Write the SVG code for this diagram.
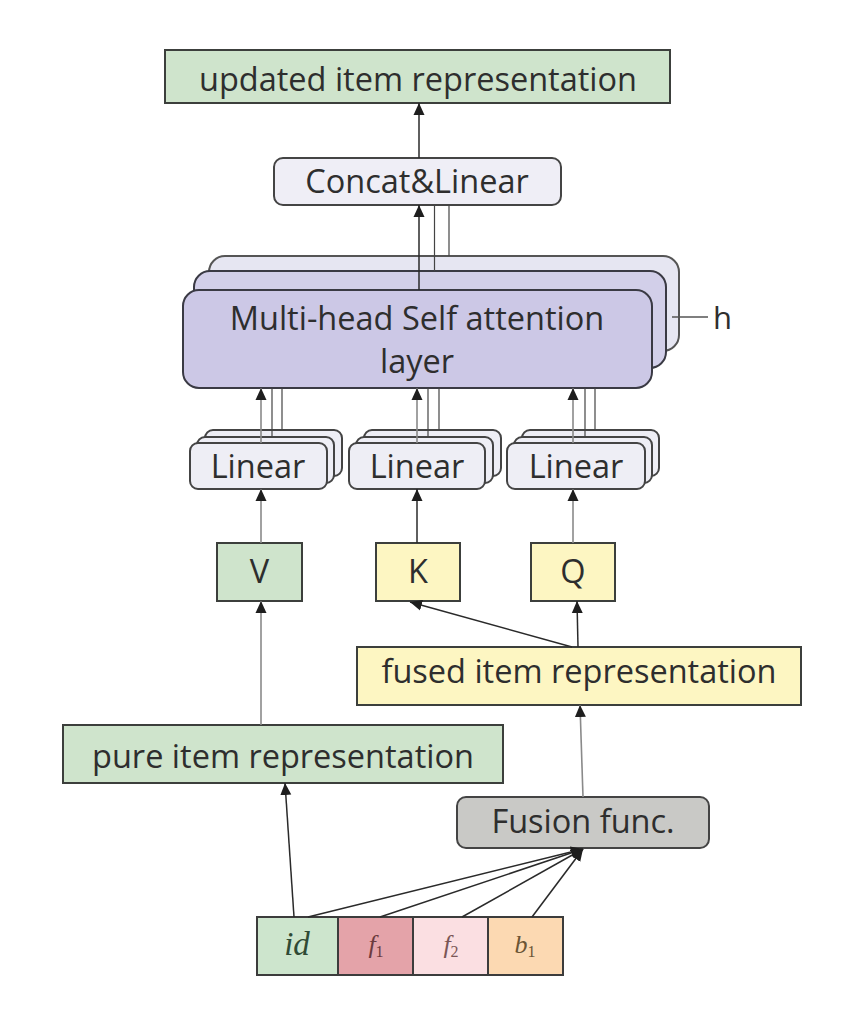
<svg xmlns="http://www.w3.org/2000/svg" width="853" height="1020" viewBox="0 0 853 1020">
<defs>
<marker id="ah" viewBox="0 0 12 12" refX="12" refY="6" markerWidth="12" markerHeight="12" markerUnits="userSpaceOnUse" orient="auto">
<path d="M0,0.5 L12,6 L0,11.5 z" fill="#1e1e1e"/>
</marker>
<style>
.t{font-family:"Open Sans","DejaVu Sans",sans-serif;font-size:32.5px;fill:#2e2e2e;text-anchor:middle}
.box{stroke:#3c3f3c;stroke-width:2}
.g{fill:#cfe4cc}
.y{fill:#fdf6c2}
.lin{fill:#eeeef5;stroke:#444;stroke-width:2}
.c{stroke:#2a2a2a;stroke-width:1.5;fill:none}
.cg{stroke:#8a8a8a;stroke-width:1.6;fill:none}
.p{stroke:#444;stroke-width:1.2;fill:none}
.m{font-family:"Liberation Serif","DejaVu Serif",serif;font-style:italic;text-anchor:middle}
</style>
</defs>
<rect width="853" height="1020" fill="#fff"/>

<g id="updated">
<rect class="box g" x="165" y="50" width="505" height="53"/>
<text class="t" x="418" y="91">updated item representation</text>
</g>

<g id="concat">
<rect x="274" y="158" width="287" height="47" rx="9" fill="#efeef6" stroke="#444" stroke-width="2"/>
<text class="t" x="417" y="193">Concat&amp;Linear</text>
</g>

<g id="mhsa">
<rect x="209" y="256" width="470" height="95" rx="16" fill="#e6e6f2" stroke="#555" stroke-width="2"/>
<rect x="194" y="271" width="472" height="97" rx="16" fill="#d2cfe9" stroke="#3a3a44" stroke-width="2"/>
<rect x="183" y="290" width="469" height="98" rx="16" fill="#ccc8e6" stroke="#3a3a44" stroke-width="2"/>
<text class="t" x="417" y="330">Multi-head Self attention</text>
<text class="t" x="417" y="373">layer</text>
</g>

<g id="h-label">
<line x1="672" y1="317" x2="708" y2="317" stroke="#555" stroke-width="1.5"/>
<text x="713" y="329" style="font-family:'Open Sans','DejaVu Sans',sans-serif;font-size:31px;fill:#2e2e2e">h</text>
</g>

<g id="linear-v">
<rect class="lin" x="205" y="430" width="137" height="46" rx="8"/>
<rect class="lin" x="197" y="437" width="137" height="46" rx="8"/>
<rect class="lin" x="190" y="443" width="137" height="46" rx="8"/>
<text class="t" x="258" y="478">Linear</text>
</g>
<g id="linear-k">
<rect class="lin" x="364" y="430" width="137" height="46" rx="8"/>
<rect class="lin" x="356" y="437" width="137" height="46" rx="8"/>
<rect class="lin" x="349" y="443" width="136" height="46" rx="8"/>
<text class="t" x="417" y="478">Linear</text>
</g>
<g id="linear-q">
<rect class="lin" x="522" y="430" width="137" height="46" rx="8"/>
<rect class="lin" x="514" y="437" width="138" height="46" rx="8"/>
<rect class="lin" x="507" y="443" width="138" height="46" rx="8"/>
<text class="t" x="576" y="478">Linear</text>
</g>

<g id="v">
<rect class="box g" x="217" y="543" width="85" height="58"/>
<text class="t" x="259.5" y="583">V</text>
</g>
<g id="k">
<rect class="box y" x="376" y="543" width="84" height="58"/>
<text class="t" x="418" y="583">K</text>
</g>
<g id="q">
<rect class="box y" x="531" y="543" width="84" height="58"/>
<text class="t" x="573" y="583">Q</text>
</g>

<g id="fused">
<rect class="box y" x="357" y="647" width="444" height="58"/>
<text class="t" x="579" y="683">fused item representation</text>
</g>

<g id="pure">
<rect class="box g" x="63" y="725" width="440" height="58"/>
<text class="t" x="283" y="768">pure item representation</text>
</g>

<g id="fusion">
<rect x="457" y="797" width="252" height="51" rx="9" fill="#c9c9c6" stroke="#444" stroke-width="2"/>
<text class="t" x="583" y="833">Fusion func.</text>
</g>

<g id="features">
<rect x="257" y="917" width="81" height="58" fill="#cde5cd" stroke="#3c3c3c" stroke-width="2"/>
<rect x="338" y="917" width="75" height="58" fill="#e4a3a9" stroke="#3c3c3c" stroke-width="2"/>
<rect x="413" y="917" width="75" height="58" fill="#fbdfe2" stroke="#3c3c3c" stroke-width="2"/>
<rect x="488" y="917" width="75" height="58" fill="#fcd9b2" stroke="#3c3c3c" stroke-width="2"/>
<text class="m" x="297" y="955" font-size="33" fill="#2f4a35">id</text>
<text class="m" x="376" y="953" font-size="26" fill="#6b3a3e">f<tspan font-size="16" font-style="normal" dy="4">1</tspan></text>
<text class="m" x="451" y="953" font-size="26" fill="#7a5656">f<tspan font-size="16" font-style="normal" dy="4">2</tspan></text>
<text class="m" x="525" y="953" font-size="26" fill="#6b5535">b<tspan font-size="16" font-style="normal" dy="4">1</tspan></text>
</g>

<g id="connectors">
<line class="c" x1="419" y1="158" x2="419" y2="103" marker-end="url(#ah)"/>
<line class="c" x1="419" y1="290" x2="419" y2="205" marker-end="url(#ah)"/>
<line class="p" x1="434.5" y1="271" x2="434.5" y2="205"/>
<line class="p" x1="449" y1="256" x2="449" y2="205"/>

<line class="cg" x1="261" y1="443" x2="261" y2="388" marker-end="url(#ah)"/>
<line class="p" x1="272" y1="437" x2="272" y2="388"/>
<line class="p" x1="282" y1="430" x2="282" y2="388"/>
<line class="cg" x1="417" y1="443" x2="417" y2="388" marker-end="url(#ah)"/>
<line class="p" x1="428" y1="437" x2="428" y2="388"/>
<line class="p" x1="439" y1="430" x2="439" y2="388"/>
<line class="cg" x1="573" y1="443" x2="573" y2="388" marker-end="url(#ah)"/>
<line class="p" x1="585" y1="437" x2="585" y2="388"/>
<line class="p" x1="595" y1="430" x2="595" y2="388"/>

<line class="cg" x1="261" y1="543" x2="261" y2="489" marker-end="url(#ah)"/>
<line class="c" x1="417" y1="543" x2="417" y2="489" marker-end="url(#ah)"/>
<line class="cg" x1="573" y1="543" x2="573" y2="489" marker-end="url(#ah)"/>

<line class="cg" x1="261" y1="725" x2="261" y2="601" marker-end="url(#ah)"/>
<line class="c" x1="572" y1="647" x2="410" y2="602" marker-end="url(#ah)"/>
<line class="c" x1="578" y1="647" x2="577" y2="601" marker-end="url(#ah)"/>
<line class="cg" x1="583" y1="797" x2="580" y2="705" marker-end="url(#ah)"/>

<line class="c" x1="294" y1="917" x2="285" y2="783" marker-end="url(#ah)"/>
<line class="c" x1="308" y1="917" x2="583" y2="849" marker-end="url(#ah)"/>
<line class="c" x1="380" y1="917" x2="583" y2="849" marker-end="url(#ah)"/>
<line class="c" x1="462" y1="917" x2="583" y2="849" marker-end="url(#ah)"/>
<line class="c" x1="532" y1="917" x2="583" y2="849" marker-end="url(#ah)"/>
</g>
</svg>
